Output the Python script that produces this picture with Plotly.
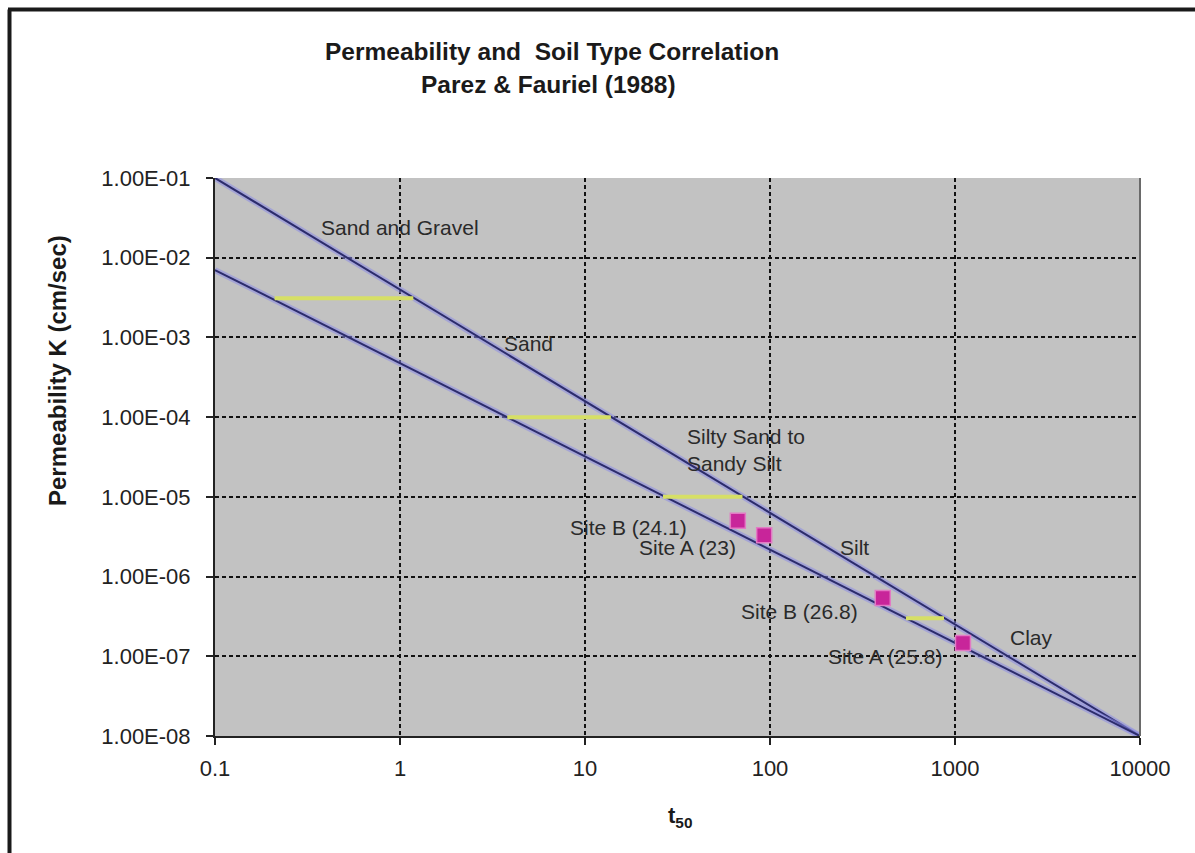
import numpy as np
import plotly.graph_objects as go

# ---- data ----
upper_t = [0.1, 10000]
upper_k = [1e-1, 1e-8]
lower_t = [0.1, 10000]
lower_k = [7e-3, 1e-8]

boundary_k = [3.1e-3, 1e-4, 1e-5, 3e-7]
boundary_t_start = [0.21, 3.8, 26.4, 543]
boundary_t_end = [1.18, 13.8, 71, 872]

site_names = ["Site B (24.1)", "Site A (23)", "Site B (26.8)", "Site A (25.8)"]
site_t = [67, 93, 407, 1104]
site_k = [5.0e-6, 3.3e-6, 5.4e-7, 1.47e-7]
site_label_t = [17.1, 35.6, 145, 419]
site_label_k = [4.18e-6, 2.34e-6, 3.69e-7, 1.0e-7]

zone_names = ["Sand and Gravel", "Sand", "Silty Sand to<br>Sandy Silt", "Silt", "Clay"]
zone_t = [1.0, 4.98, 34.7, 288, 2606]
zone_k = [2.36e-2, 8.5e-4, 3.9e-5, 2.34e-6, 1.7e-7]
zone_anchor = ["center", "center", "left", "center", "center"]

x_tickvals = [0.1, 1, 10, 100, 1000, 10000]
x_ticktext = ["0.1", "1", "10", "100", "1000", "10000"]
y_tickvals = [1e-1, 1e-2, 1e-3, 1e-4, 1e-5, 1e-6, 1e-7, 1e-8]
y_ticktext = ["1.00E-01", "1.00E-02", "1.00E-03", "1.00E-04",
              "1.00E-05", "1.00E-06", "1.00E-07", "1.00E-08"]

FONT = "Liberation Sans, Arial, sans-serif"
W, H = 1195, 853
L, R, T, B = 215, 55, 178, 117
pw, ph = W - L - R, H - T - B


def px_x(px):
    return (px - L) / pw


def px_y(py):
    return (H - B - py) / ph


fig = go.Figure()

# correlation lines: soft halo + dark core
for tt, kk in [(upper_t, upper_k), (lower_t, lower_k)]:
    fig.add_trace(go.Scatter(x=tt, y=kk, mode="lines",
                             line=dict(color="rgba(140,140,230,0.55)", width=6),
                             hoverinfo="skip"))
    fig.add_trace(go.Scatter(x=tt, y=kk, mode="lines",
                             line=dict(color="#2c2c6c", width=2),
                             hoverinfo="skip"))

# boundary segments
bx, by = [], []
for s, e, k in zip(boundary_t_start, boundary_t_end, boundary_k):
    bx += [s, e, None]
    by += [k, k, None]
fig.add_trace(go.Scatter(x=bx, y=by, mode="lines",
                         line=dict(color="#d6df66", width=4),
                         hoverinfo="skip"))

# site points
fig.add_trace(go.Scatter(x=site_t, y=site_k, mode="markers",
                         marker=dict(symbol="square", size=15, color="#c8259a",
                                     line=dict(color="#e27ac4", width=1.5)),
                         text=site_names, hoverinfo="text"))

annotations = []
for name, t, k in zip(site_names, site_label_t, site_label_k):
    annotations.append(dict(x=np.log10(t), y=np.log10(k), xref="x", yref="y",
                            text=name, showarrow=False,
                            font=dict(family=FONT, size=21, color="#2a2a2a")))
for name, t, k, a in zip(zone_names, zone_t, zone_k, zone_anchor):
    annotations.append(dict(x=np.log10(t), y=np.log10(k), xref="x", yref="y",
                            text=name, showarrow=False, xanchor=a, align="left",
                            font=dict(family=FONT, size=21, color="#2a2a2a")))

# titles
annotations.append(dict(x=px_x(552), y=px_y(52), xref="paper", yref="paper",
                        text="<b>Permeability and  Soil Type Correlation</b>",
                        showarrow=False, xanchor="center", yanchor="middle",
                        font=dict(family=FONT, size=24.5, color="#1a1a1a")))
annotations.append(dict(x=px_x(548), y=px_y(84), xref="paper", yref="paper",
                        text="<b>Parez &amp; Fauriel (1988)</b>",
                        showarrow=False, xanchor="center", yanchor="middle",
                        font=dict(family=FONT, size=24.5, color="#1a1a1a")))
annotations.append(dict(x=px_x(57), y=px_y(371), xref="paper", yref="paper",
                        text="<b>Permeability K (cm/sec)</b>", textangle=-90,
                        showarrow=False, xanchor="center", yanchor="middle",
                        font=dict(family=FONT, size=24, color="#1a1a1a")))
annotations.append(dict(x=px_x(680), y=px_y(817), xref="paper", yref="paper",
                        text="<b>t<sub>50</sub></b>",
                        showarrow=False, xanchor="center", yanchor="middle",
                        font=dict(family=FONT, size=22, color="#1a1a1a")))

shapes = [
    # right border of plot area (solid gray)
    dict(type="line", xref="paper", yref="paper", x0=1, x1=1, y0=0, y1=1,
         line=dict(color="#6a6a6a", width=2), layer="above"),
    # outer frame (left and top)
    dict(type="line", xref="paper", yref="paper",
         x0=px_x(9.5), x1=px_x(9.5), y0=px_y(9.5), y1=px_y(853),
         line=dict(color="#1a1a1a", width=4)),
    dict(type="line", xref="paper", yref="paper",
         x0=px_x(8), x1=px_x(1195), y0=px_y(9.5), y1=px_y(9.5),
         line=dict(color="#1a1a1a", width=4)),
]

fig.update_layout(
    width=W, height=H,
    margin=dict(l=L, r=R, t=T, b=B, pad=0),
    paper_bgcolor="white",
    plot_bgcolor="#c2c2c2",
    showlegend=False,
    annotations=annotations,
    shapes=shapes,
    font=dict(family=FONT, color="#222222"),
)

fig.update_xaxes(
    type="log", range=[-1, 4],
    tickvals=x_tickvals, ticktext=x_ticktext,
    tickfont=dict(family=FONT, size=22, color="#222222"),
    ticks="outside", ticklen=7, tickwidth=1.5, tickcolor="#222222",
    ticklabelstandoff=5,
    showgrid=True, gridcolor="#111111", gridwidth=1.5, griddash="4px,3px",
    showline=True, linecolor="#222222", linewidth=2,
    zeroline=False,
)
fig.update_yaxes(
    type="log", range=[-8, -1],
    tickvals=y_tickvals, ticktext=y_ticktext,
    tickfont=dict(family=FONT, size=22, color="#222222"),
    ticks="outside", ticklen=7, tickwidth=1.5, tickcolor="#222222",
    ticklabelstandoff=11,
    showgrid=True, gridcolor="#111111", gridwidth=1.5, griddash="4px,3px",
    showline=True, linecolor="#222222", linewidth=2,
    zeroline=False,
)

fig.write_html("out.html", config={"displayModeBar": False})
